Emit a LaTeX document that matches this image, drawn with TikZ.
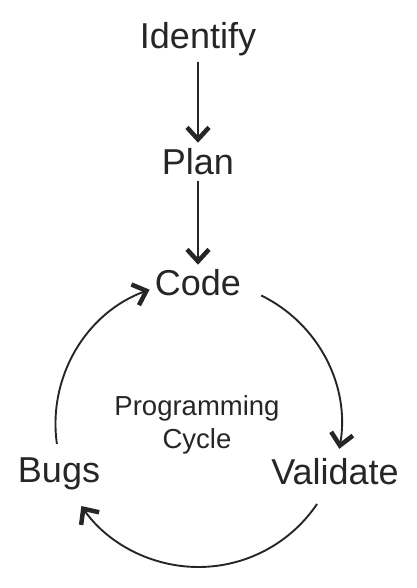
\documentclass[tikz,border=0pt]{standalone}
\usepackage{fontspec}
\setmainfont{Liberation Sans}
\usetikzlibrary{arrows.meta}
\begin{document}
\begin{tikzpicture}[x=1pt,y=1pt,
  lbl/.style={inner sep=0pt,anchor=base,font=\fontsize{36}{40}\selectfont,text=black!85},
  sublbl/.style={inner sep=0pt,anchor=base,font=\fontsize{27.5}{30}\selectfont,text=black!85},
  conn/.style={draw=black!85,line width=1.9pt,-{Straight Barb[length=12pt,width=22pt,line width=4.5pt]}}]
\useasboundingbox (0,0) rectangle (416,-588);
\node[lbl] (identify) at (198,-49) {Identify};
\node[lbl] (plan) at (198,-175) {Plan};
\node[lbl] (code) at (198,-295) {Code};
\node[lbl] (bugs) at (59,-482) {Bugs};
\node[lbl] (validate) at (335,-484) {Validate};
\node[sublbl] (prog) at (197,-415) {Programming};
\node[sublbl] (cycle) at (197,-448) {Cycle};
\coordinate (cen) at (198.5,-424);
\draw[conn,shorten <=5pt,shorten >=6pt] (identify.south) -- (plan.north);
\draw[conn,shorten <=5pt,shorten >=4pt] (plan.south) -- (code.north);
\draw[conn] ([shift={(64:143)}]cen) arc[start angle=64,end angle=-10,radius=143];
\draw[conn] ([shift={(-34:143)}]cen) arc[start angle=-34,end angle=-145,radius=143];
\draw[conn] ([shift={(188:143)}]cen) arc[start angle=188,end angle=110,radius=143];
\end{tikzpicture}
\end{document}
